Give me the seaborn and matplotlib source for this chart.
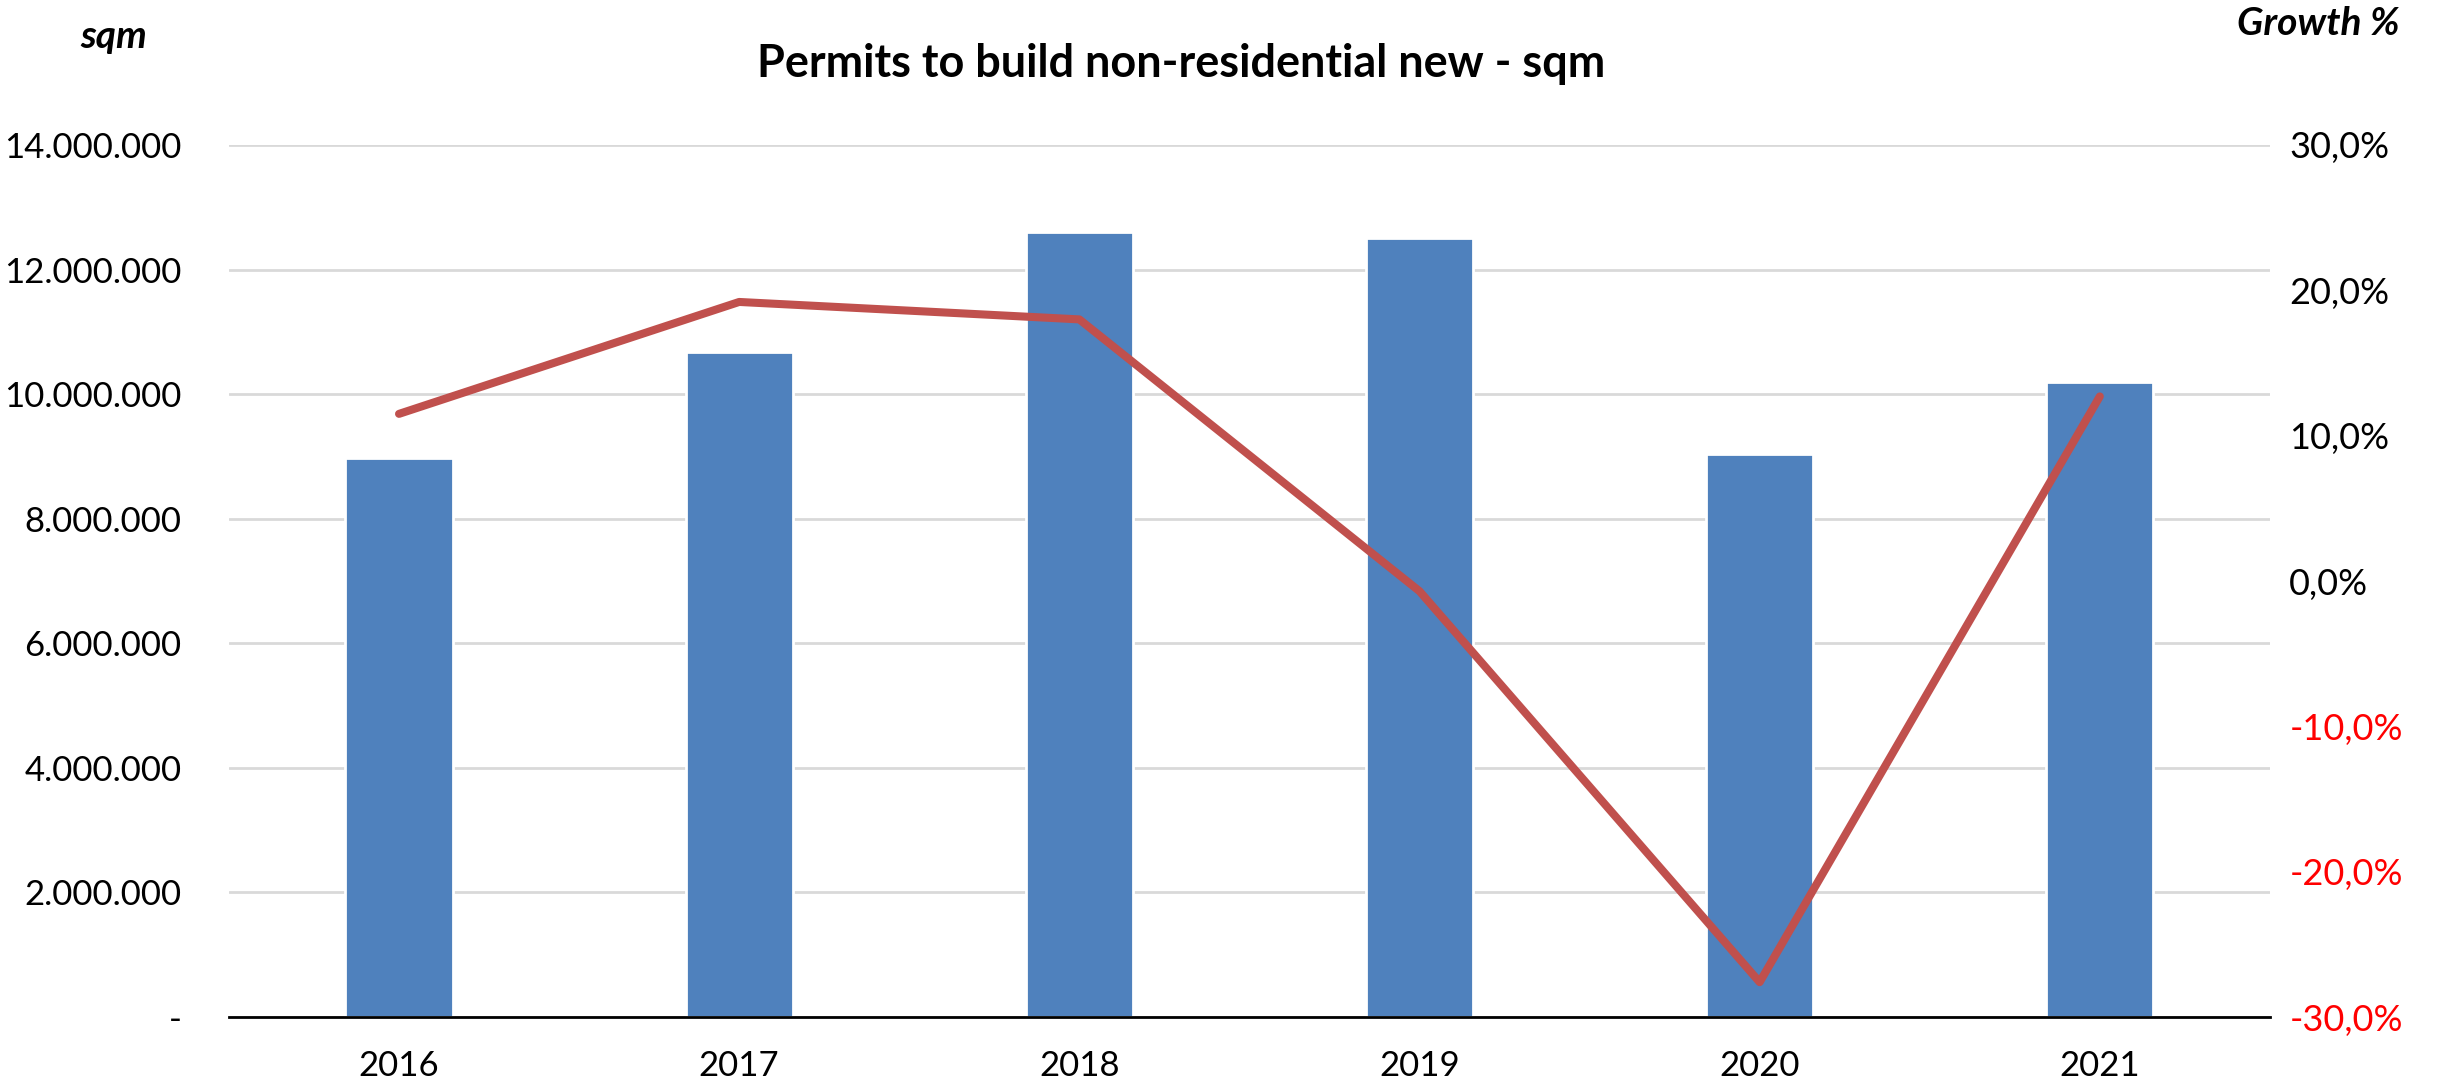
import matplotlib
matplotlib.use("Agg")
import matplotlib.pyplot as plt
import pandas as pd
import seaborn as sns
from matplotlib.ticker import FuncFormatter

# data
years = ["2016", "2017", "2018", "2019", "2020", "2021"]
sqm = [8970000, 10670000, 12600000, 12500000, 9040000, 10190000]
growth = [11.5, 19.2, 18.0, -0.7, -27.6, 12.7]

left_ticks = list(range(0, 14000001, 2000000))
right_ticks = [-30, -20, -10, 0, 10, 20, 30]

sns.set_theme(style="white")
plt.rcParams["font.family"] = ["Lato", "DejaVu Sans"]
plt.rcParams["text.color"] = "black"
plt.rcParams["xtick.color"] = "black"
plt.rcParams["ytick.color"] = "black"

df = pd.DataFrame({"year": years, "sqm": sqm, "growth": growth})

fig = plt.figure(figsize=(12.23, 5.43), dpi=200)
ax = fig.add_axes([0.0936, 0.0635, 0.928 - 0.0936, 0.8665 - 0.0635])

# bars on the left axis
sns.barplot(data=df, x="year", y="sqm", color="#4F81BD", saturation=1,
            width=0.315, ax=ax, zorder=2)
ax.set_xlim(-0.5, 5.5)
ax.set_ylim(0, 14000000)
ax.set_yticks(left_ticks)
ax.yaxis.set_major_formatter(FuncFormatter(
    lambda v, p: "-" if v == 0 else f"{int(v):,}".replace(",", ".")))
ax.grid(axis="y", color="#D9D9D9", linewidth=1.0, zorder=0)
ax.set_axisbelow(True)
for s in ["top", "left", "right"]:
    ax.spines[s].set_visible(False)
ax.spines["bottom"].set_color("black")
ax.spines["bottom"].set_linewidth(1.0)
ax.set_xlabel("")
ax.set_ylabel("")
ax.tick_params(axis="y", labelsize=12.5, pad=17, length=0, colors="black")
ax.tick_params(axis="x", labelsize=12.5, pad=12, length=0, colors="black")

# growth line on the right axis
ax2 = ax.twinx()
sns.lineplot(data=df, x="year", y="growth", sort=False, color="#C0504D",
             linewidth=2.9, ax=ax2)
ax2.set_ylim(-30, 30)
ax2.set_yticks(right_ticks)
ax2.yaxis.set_major_formatter(FuncFormatter(
    lambda v, p: f"{v:.1f}%".replace(".", ",")))
ax2.tick_params(axis="y", labelsize=13, pad=7, length=0)
for lab, v in zip(ax2.get_yticklabels(), right_ticks):
    lab.set_color("#FF0000" if v < 0 else "black")
for s in ax2.spines.values():
    s.set_visible(False)
ax2.set_ylabel("")
ax2.set_xlabel("")

fig.text(0.483, 0.941, "Permits to build non-residential new - sqm",
         ha="center", va="center", fontsize=16.2, fontweight="bold",
         color="black")
fig.text(0.0466, 0.966, "sqm", ha="center", va="center", fontsize=14,
         fontweight="bold", fontstyle="italic", color="black")
fig.text(0.981, 0.978, "Growth %", ha="right", va="center", fontsize=14,
         fontweight="bold", fontstyle="italic", color="black")

fig.savefig("out.png", dpi=200)
